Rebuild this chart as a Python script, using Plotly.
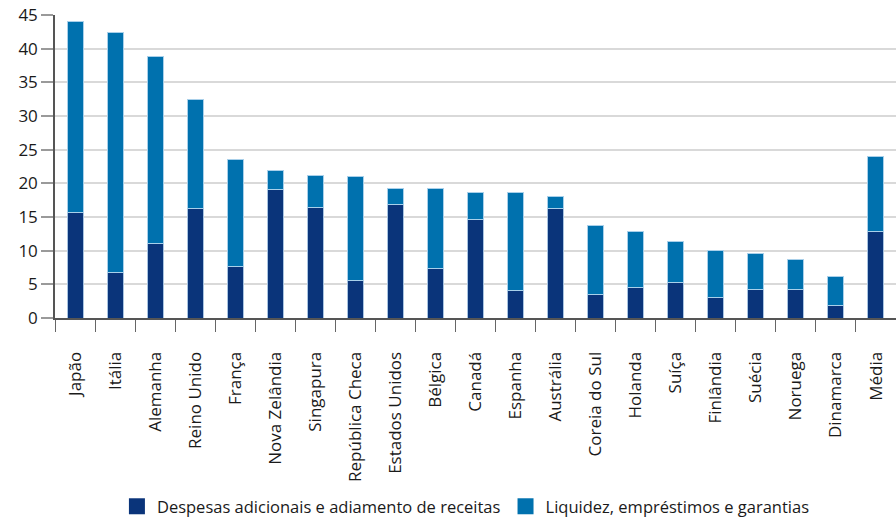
import plotly.graph_objects as go

categories = ["Japão", "Itália", "Alemanha", "Reino Unido", "França", "Nova Zelândia",
              "Singapura", "República Checa", "Estados Unidos", "Bélgica", "Canadá",
              "Espanha", "Austrália", "Coreia do Sul", "Holanda", "Suíça", "Finlândia",
              "Suécia", "Noruega", "Dinamarca", "Média"]
despesas = [15.6, 6.8, 11.0, 16.3, 7.7, 19.1, 16.4, 5.5, 16.8, 7.3, 14.7,
            4.1, 16.3, 3.5, 4.6, 5.3, 3.0, 4.2, 4.3, 1.8, 12.8]
totais = [44.0, 42.4, 38.9, 32.5, 23.5, 21.9, 21.1, 21.0, 19.2, 19.2, 18.7,
          18.6, 18.0, 13.7, 12.9, 11.3, 10.05, 9.55, 8.66, 6.1, 24.0]
liquidez = [round(t - d, 2) for t, d in zip(totais, despesas)]
yticks = [0, 5, 10, 15, 20, 25, 30, 35, 40, 45]
series_names = ["Despesas adicionais e adiamento de receitas", "Liquidez, empréstimos e garantias"]
colors = ["#0a347a", "#0071ae"]

FONT = "Open Sans"
fig = go.Figure()
fig.add_bar(x=categories, y=despesas, name=series_names[0], showlegend=False,
            marker=dict(color=colors[0], line=dict(color="#a9c4e0", width=1)), width=0.4)
fig.add_bar(x=categories, y=liquidez, name=series_names[1], showlegend=False,
            marker=dict(color=colors[1], line=dict(color="#a9d0ea", width=1)), width=0.4)
# legend entries with square swatches
for name, c in zip(series_names, colors):
    fig.add_scatter(x=[None], y=[None], mode="markers", name=name,
                    marker=dict(symbol="square", size=16, color=c))

fig.update_layout(
    barmode="stack",
    width=896, height=519,
    margin=dict(l=55, r=0, t=15, b=201, autoexpand=False),
    plot_bgcolor="white", paper_bgcolor="white",
    font=dict(family=FONT, color="#1a1a1a"),
    showlegend=True,
    legend=dict(orientation="h", xref="container", yref="container",
                x=0.52, xanchor="center", y=0.024, yanchor="middle",
                font=dict(size=16.5, family=FONT, color="#1a1a1a"), traceorder="normal",
                itemsizing="trace", itemwidth=30, bgcolor="rgba(0,0,0,0)",
                tracegroupgap=0),
)
fig.update_yaxes(range=[0, 45], tickvals=yticks, showgrid=True, gridcolor="#d9d9d9", gridwidth=2,
                 showline=True, linecolor="#555555", linewidth=1.5,
                 ticks="outside", ticklen=12, tickcolor="#9a9a9a", tickwidth=2,
                 tickfont=dict(size=17, family=FONT, color="#1a1a1a"), zeroline=False,
                 automargin=False)
fig.update_xaxes(showline=True, linecolor="#555555", linewidth=2,
                 ticks="outside", tickson="boundaries", ticklen=12, tickcolor="#666666", tickwidth=1,
                 tickangle=-90, tickfont=dict(size=17, family=FONT, color="#1a1a1a"),
                 ticklabelstandoff=25, range=[-0.5, 20.5], automargin=False)

fig.write_html("out.html")
